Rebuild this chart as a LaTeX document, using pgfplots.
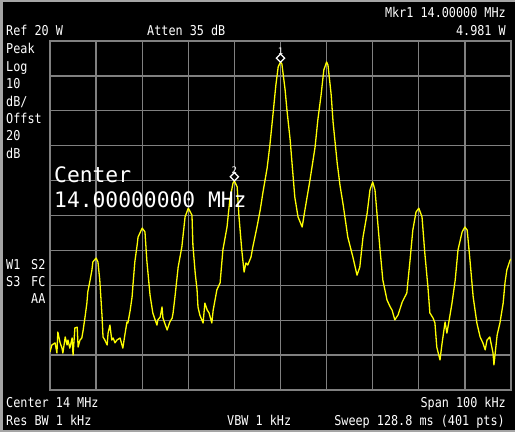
\documentclass[border=0pt]{standalone}
\usepackage{pgfplots}
\pgfplotsset{compat=1.18}
\usepackage{fontspec}
\newfontfamily\mono{DejaVu Sans Mono}

\definecolor{gridgray}{RGB}{128,128,128}
\definecolor{framegray}{RGB}{165,165,165}
\definecolor{trace}{RGB}{255,255,0}

\newcommand{\sm}{\mono\fontsize{11.8bp}{14bp}\selectfont}
\newcommand{\bigtxt}{\mono\fontsize{21.3bp}{24bp}\selectfont}

\begin{document}
\begin{tikzpicture}
  \path[use as bounding box] (0,0) rectangle (515bp,432bp);
  \fill[black] (0,0) rectangle (515bp,432bp);
  % screen frame
  \fill[framegray] (0,0) rectangle (2.7bp,432bp);
  \fill[framegray] (0,430.3bp) rectangle (515bp,432bp);
  \fill[framegray] (0,0) rectangle (515bp,1.8bp);

  \begin{axis}[
      at={(50bp,42bp)}, anchor=south west,
      width=461bp, height=349bp, scale only axis,
      xmin=-50, xmax=50, ymin=-57, ymax=43,
      xtick={-50,-40,...,50}, ytick={-57,-47,...,43},
      xticklabels={}, yticklabels={}, major tick length=0pt,
      grid=major,
      grid style={gridgray, line width=1.3bp},
      axis line style={gridgray, line width=1.8bp},
      clip mode=individual,
    ]
    % trace: frequency offset from 14 MHz (kHz), level (dBm)
    \addplot[trace, line width=1.3bp, line join=round] coordinates {
      (-50.0,-46.1) (-49.6,-44.1) (-48.9,-43.5) (-48.5,-46.4) (-48.3,-40.4)
      (-47.8,-43.5) (-47.4,-45.0) (-47.2,-46.4) (-46.7,-41.8) (-46.3,-44.1)
      (-46.1,-42.7) (-45.7,-45.0) (-45.2,-42.1) (-45.0,-47.0) (-44.6,-39.2)
      (-44.1,-39.0) (-43.9,-44.7) (-43.5,-42.7) (-43.1,-42.1) (-42.8,-39.8)
      (-42.4,-36.1) (-42.0,-32.1) (-41.8,-28.9) (-41.3,-25.5) (-40.9,-22.6)
      (-40.7,-20.3) (-40.0,-19.2) (-39.6,-20.3) (-39.2,-25.5) (-38.7,-36.1)
      (-38.5,-41.8) (-38.1,-42.7) (-37.6,-44.1) (-37.4,-40.7) (-37.0,-38.4)
      (-36.6,-42.7) (-36.3,-42.1) (-35.9,-43.5) (-35.5,-42.7) (-34.8,-42.1)
      (-34.2,-45.0) (-33.7,-40.7) (-33.3,-37.5) (-33.1,-37.8) (-32.6,-34.1)
      (-32.2,-30.4) (-32.0,-26.9) (-31.6,-20.3) (-31.1,-15.5) (-30.9,-13.2)
      (-30.0,-10.6) (-29.4,-11.7) (-29.0,-19.8) (-28.7,-24.1) (-28.3,-29.8)
      (-27.9,-33.2) (-27.7,-34.9) (-27.2,-36.9) (-26.8,-38.4) (-26.6,-36.9)
      (-26.1,-36.1) (-25.7,-33.2) (-25.5,-36.4) (-24.8,-39.0) (-24.6,-39.8)
      (-24.0,-37.5) (-23.5,-36.4) (-23.3,-34.9) (-22.9,-30.4) (-22.2,-21.8)
      (-21.4,-16.0) (-20.7,-7.4) (-20.0,-4.9) (-19.2,-6.9) (-19.0,-15.5)
      (-18.5,-23.5) (-18.1,-28.3) (-17.9,-33.2) (-17.5,-35.5) (-16.8,-37.8)
      (-16.4,-32.1) (-15.9,-34.1) (-15.5,-34.9) (-14.9,-37.8) (-14.6,-34.1)
      (-13.8,-28.3) (-13.1,-26.3) (-12.5,-16.9) (-11.6,-10.3) (-11.0,-2.6)
      (-10.3,2.3) (-10.0,2.9) (-9.4,1.2) (-9.0,-7.4) (-8.4,-16.9)
      (-7.9,-23.2) (-7.5,-20.6) (-7.1,-21.2) (-6.4,-18.9) (-6.0,-16.0)
      (-5.1,-10.3) (-4.4,-5.4) (-3.8,-0.3) (-2.9,6.6) (-2.3,13.2)
      (-1.6,22.4) (-1.0,30.4) (-0.5,35.6) (0.0,37.0) (0.3,36.4)
      (1.0,29.0) (1.4,23.2) (2.1,14.6) (2.5,8.0) (3.1,-1.7)
      (3.8,-7.4) (4.7,-10.3) (5.3,-5.4) (6.4,3.2) (7.5,12.6)
      (8.1,20.4) (8.8,27.5) (9.4,34.7) (10.0,37.0) (10.3,36.1)
      (11.0,27.5) (11.4,19.8) (12.3,8.0) (12.9,1.7) (13.6,-4.0)
      (14.6,-13.2) (15.7,-18.9) (16.6,-24.1) (17.2,-21.8) (17.9,-13.2)
      (18.8,-6.3) (19.4,0.3) (20.0,2.6) (20.5,0.3) (20.9,-6.0)
      (21.6,-16.9) (22.2,-25.5) (23.1,-31.2) (23.8,-33.2) (24.2,-34.1)
      (24.8,-36.9) (25.5,-35.5) (26.4,-31.8) (27.4,-29.2) (28.1,-19.8)
      (28.7,-11.2) (29.4,-6.0) (30.0,-4.9) (30.7,-7.4) (31.3,-17.7)
      (32.0,-27.8) (32.4,-34.9) (33.1,-36.4) (33.5,-37.8) (33.9,-44.7)
      (34.6,-48.4) (35.0,-44.1) (35.7,-37.5) (36.1,-40.7) (36.6,-36.9)
      (37.2,-32.1) (37.9,-25.5) (38.5,-16.9) (39.4,-11.7) (40.0,-10.3)
      (40.5,-11.2) (41.1,-19.8) (41.8,-30.4) (42.6,-37.8) (43.3,-41.8)
      (43.9,-43.5) (44.4,-45.5) (44.8,-42.7) (45.4,-41.8) (46.1,-46.4)
      (46.3,-49.8) (47.0,-41.2) (47.6,-37.8) (48.3,-32.1) (48.7,-26.3)
      (49.1,-22.6) (49.8,-19.8) (50.0,-19.5)
    };
    % markers
    \addplot[only marks, white, mark=square*, mark size=2.9bp,
             mark options={fill=black, line width=1.3bp, rotate=45}]
      coordinates {(0,38.1)} node[above=3bp, white, inner sep=0pt,
      font={\mono\fontsize{9bp}{10bp}\selectfont}] {1};
    \addplot[only marks, white, mark=square*, mark size=2.9bp,
             mark options={fill=black, line width=1.3bp, rotate=45}]
      coordinates {(-10,4.1)} node[above=3bp, white, inner sep=0pt,
      font={\mono\fontsize{9bp}{10bp}\selectfont}] {2};
  \end{axis}

  \begin{scope}[every node/.style={white, inner sep=0pt, yscale=1.15}]
    % top line
    \node[anchor=base west] at (6bp,396bp) {\sm Ref 20 W};
    \node[anchor=base west] at (147bp,396bp) {\sm Atten 35 dB};
    \node[anchor=base east] at (506bp,414bp) {\sm Mkr1 14.00000 MHz};
    \node[anchor=base east] at (506bp,396bp) {\sm 4.981 W};
    % left column
    \node[anchor=base west] at (6bp,378bp) {\sm Peak};
    \node[anchor=base west] at (6bp,360.6bp) {\sm Log};
    \node[anchor=base west] at (6bp,343.2bp) {\sm 10};
    \node[anchor=base west] at (6bp,325.8bp) {\sm dB/};
    \node[anchor=base west] at (6bp,308.4bp) {\sm Offst};
    \node[anchor=base west] at (6bp,291bp) {\sm 20};
    \node[anchor=base west] at (6bp,273.6bp) {\sm dB};
    \node[anchor=base west] at (6bp,162bp) {\sm W1};
    \node[anchor=base west] at (31bp,162bp) {\sm S2};
    \node[anchor=base west] at (6bp,145bp) {\sm S3};
    \node[anchor=base west] at (31bp,145bp) {\sm FC};
    \node[anchor=base west] at (31bp,128bp) {\sm AA};
    % bottom lines
    \node[anchor=base west] at (6bp,25bp) {\sm Center 14 MHz};
    \node[anchor=base west] at (6bp,7bp) {\sm Res BW 1 kHz};
    \node[anchor=base west] at (227bp,7bp) {\sm VBW 1 kHz};
    \node[anchor=base east] at (506bp,25bp) {\sm Span 100 kHz};
    \node[anchor=base east] at (505bp,7bp) {\sm Sweep 128.8 ms (401 pts)};
  \end{scope}
  % centre frequency readout
  \node[white, inner sep=0pt, anchor=base west] at (54bp,249bp) {\bigtxt Center};
  \node[white, inner sep=0pt, anchor=base west] at (54bp,224bp) {\bigtxt 14.00000000 MHz};
\end{tikzpicture}
\end{document}
